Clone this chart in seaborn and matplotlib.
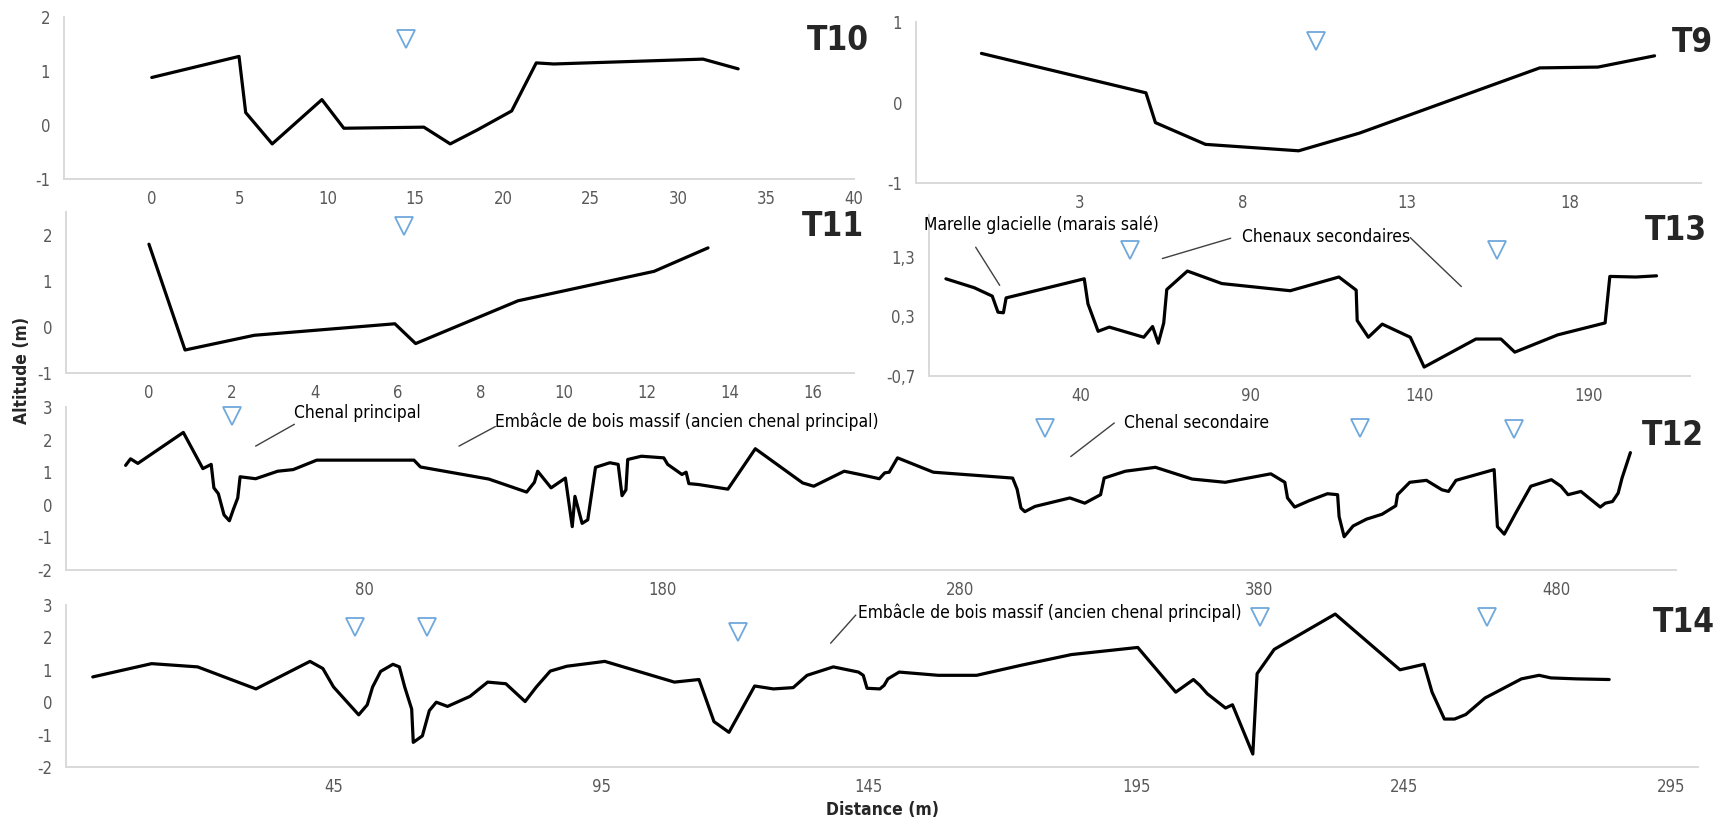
import matplotlib
matplotlib.use("Agg")
import matplotlib.pyplot as plt
import seaborn as sns

sns.set_theme(style="white")
plt.rcParams['font.family'] = ['DejaVu Sans']
plt.rcParams['font.stretch'] = 'condensed'
plt.rcParams['axes.unicode_minus'] = False

# --- profiles (distance in m, altitude in m) ---
t10_x = [0, 4.97, 5.35, 6.86, 9.69, 10.94, 15.5, 17.0, 18.55, 20.5, 21.9, 22.9, 31.4, 33.4]
t10_z = [0.88, 1.27, 0.23, -0.35, 0.47, -0.06, -0.04, -0.35, -0.09, 0.26, 1.15, 1.13, 1.22, 1.04]

t9_x = [0, 5.03, 5.32, 6.85, 9.7, 11.56, 17.07, 18.85, 20.58]
t9_z = [0.61, 0.12, -0.25, -0.52, -0.60, -0.38, 0.43, 0.44, 0.58]

t11_x = [0, 0.87, 2.54, 5.93, 6.43, 8.9, 12.18, 13.48]
t11_z = [1.80, -0.50, -0.18, 0.07, -0.36, 0.57, 1.21, 1.72]

t13_x = [0, 8.4, 13.7, 15.4, 17.0, 17.8, 23.6, 40.9, 42.0, 45.0, 48.3, 58.5, 61.1, 62.8,
         64.4, 65.3, 71.4, 81.6, 101.8, 116.2, 121.3, 121.6, 124.9, 129.0, 137.3, 141.4,
         156.7, 164.1, 168.2, 180.9, 194.9, 196.3, 204.0, 210.1]
t13_z = [0.93, 0.78, 0.64, 0.37, 0.36, 0.61, 0.69, 0.93, 0.51, 0.05, 0.12, -0.05, 0.13, -0.15,
         0.19, 0.75, 1.06, 0.85, 0.73, 0.96, 0.74, 0.23, -0.05, 0.17, -0.05, -0.55,
         -0.08, -0.08, -0.30, -0.01, 0.19, 0.97, 0.96, 0.98]

t12_x = [0, 1.65, 4.1, 19.35, 25.9, 28.7, 29.6, 31.1, 33.0, 34.8, 36.1, 37.6, 38.4, 43.6,
         51.0, 56.2, 64.1, 96.7, 98.9, 121.8, 134.5, 137.1, 138.2, 142.7, 147.5, 149.8,
         150.7, 153.1, 155.0, 157.6, 162.4, 165.2, 166.5, 167.8, 168.4, 173.0, 180.5,
         181.8, 186.6, 188.0, 188.9, 192.3, 202.0, 211.2, 227.1, 230.8, 241.0, 246.3,
         252.8, 254.6, 256.1, 258.9, 270.9, 297.5, 299.0, 300.3, 301.6, 305.0, 316.7,
         321.7, 327.0, 328.2, 335.3, 345.4, 357.7, 368.8, 384.1, 388.8, 389.7, 392.1,
         396.8, 403.1, 406.5, 407.0, 408.7, 411.7, 416.2, 421.4, 426.0, 426.6, 430.7,
         436.3, 441.5, 443.7, 446.2, 459.0, 460.1, 462.4, 466.5, 471.3, 478.2, 481.4,
         483.8, 488.1, 494.6, 496.3, 498.7, 500.6, 501.9, 504.7]
t12_z = [1.21, 1.41, 1.27, 2.22, 1.11, 1.24, 0.52, 0.34, -0.31, -0.49, -0.15, 0.21, 0.86, 0.80,
         1.03, 1.08, 1.37, 1.37, 1.16, 0.79, 0.39, 0.69, 1.03, 0.52, 0.82, -0.67,
         0.26, -0.57, -0.46, 1.15, 1.29, 1.24, 0.28, 0.46, 1.39, 1.49, 1.44,
         1.24, 0.93, 1.00, 0.65, 0.62, 0.48, 1.72, 0.67, 0.57, 1.03, 0.93,
         0.80, 0.98, 1.00, 1.44, 1.00, 0.82, 0.48, -0.10, -0.21, -0.05, 0.21,
         0.05, 0.31, 0.82, 1.03, 1.15, 0.79, 0.69, 0.95, 0.69, 0.21, -0.07,
         0.12, 0.34, 0.31, -0.36, -0.98, -0.65, -0.44, -0.29, -0.03, 0.31, 0.69,
         0.75, 0.46, 0.41, 0.75, 1.08, -0.67, -0.90, -0.21, 0.57, 0.77, 0.57,
         0.31, 0.41, -0.07, 0.05, 0.10, 0.36, 0.82, 1.60]

t14_x = [0, 11.0, 19.6, 30.5, 40.6, 43.0, 45.0, 49.7, 51.3, 52.3, 53.8, 56.1, 57.3, 58.3,
         59.6, 59.9, 61.6, 62.9, 64.2, 66.3, 70.5, 73.8, 77.2, 80.8, 82.9, 85.5, 88.6,
         95.7, 108.7, 113.3, 116.1, 118.9, 123.7, 127.2, 130.9, 133.5, 138.4, 143.1,
         144.0, 144.7, 147.1, 147.9, 148.6, 150.7, 158.0, 165.2, 173.5, 182.9, 195.3,
         202.4, 205.7, 206.9, 208.3, 211.7, 213.0, 216.8, 217.6, 220.8, 232.2, 244.3,
         248.8, 250.3, 252.6, 254.5, 256.6, 260.2, 267.0, 270.3, 272.5, 277.3, 283.4]
t14_z = [0.78, 1.19, 1.09, 0.41, 1.26, 1.04, 0.47, -0.39, -0.08, 0.47, 0.95, 1.17, 1.09, 0.47,
         -0.21, -1.24, -1.04, -0.26, 0.00, -0.13, 0.18, 0.62, 0.57, 0.02, 0.47, 0.96, 1.11,
         1.26, 0.62, 0.70, -0.60, -0.93, 0.50, 0.41, 0.45, 0.83, 1.09, 0.93,
         0.83, 0.43, 0.41, 0.52, 0.72, 0.93, 0.83, 0.83, 1.14, 1.47, 1.69,
         0.31, 0.70, 0.52, 0.26, -0.18, -0.08, -1.60, 0.88, 1.63, 2.72, 1.00,
         1.17, 0.31, -0.52, -0.52, -0.38, 0.13, 0.72, 0.83, 0.75, 0.72, 0.70]

# water level markers
t10_wx, t10_wz = [14.5], [1.6]
t9_wx, t9_wz = [10.24], [0.76]
t11_wx, t11_wz = [6.16], [2.2]
t13_wx, t13_wz = [54.4, 162.8], [1.41, 1.41]
t12_wx, t12_wz = [35.6, 308.3, 413.9, 465.5], [2.73, 2.37, 2.37, 2.32]
t14_wx, t14_wz = [49.0, 62.5, 120.5, 218.2, 260.5], [2.33, 2.33, 2.17, 2.62, 2.62]

W, H = 1729, 821
GREY = '#595959'
SPINE = '#D9D9D9'
BLUE = '#6FA8DC'

fig = plt.figure(figsize=(W / 100, H / 100), dpi=100)


def rect(l, t, r, b):
    return [l / W, 1 - b / H, (r - l) / W, (b - t) / H]


def panel(box, xs, zs, wx, wz, xlim, ylim, xticks, yticks, ylabels=None):
    ax = fig.add_axes(rect(*box))
    sns.lineplot(x=xs, y=zs, ax=ax, color='black', lw=2.3, sort=False,
                 estimator=None, solid_joinstyle='round')
    ax.plot(wx, wz, 'v', ms=12.5, mfc='none', mec=BLUE, mew=1.3, clip_on=False)
    ax.set_xlim(*xlim)
    ax.set_ylim(*ylim)
    ax.set_xticks(xticks)
    ax.set_yticks(yticks)
    if ylabels is not None:
        ax.set_yticklabels(ylabels)
    sns.despine(ax=ax)
    for s in ['left', 'bottom']:
        ax.spines[s].set_color(SPINE)
        ax.spines[s].set_linewidth(1.4)
    ax.tick_params(length=0, labelsize=12, colors=GREY)
    ax.tick_params(axis='x', pad=8)
    ax.tick_params(axis='y', pad=10)
    ax.set_xlabel('')
    ax.set_ylabel('')
    return ax


ax10 = panel((64, 17, 854, 179), t10_x, t10_z, t10_wx, t10_wz, (-5, 40), (-1, 2),
             range(0, 41, 5), [-1, 0, 1, 2])
ax9 = panel((916, 22, 1701, 183), t9_x, t9_z, t9_wx, t9_wz, (-2, 22), (-1, 1),
            [3, 8, 13, 18], [-1, 0, 1])
ax11 = panel((66, 212, 854, 373), t11_x, t11_z, t11_wx, t11_wz, (-2, 17), (-1, 2.5),
             range(0, 17, 2), [-1, 0, 1, 2])
ax13 = panel((929, 215, 1690, 376), t13_x, t13_z, t13_wx, t13_wz, (-5, 220), (-0.7, 2.0),
             [40, 90, 140, 190], [-0.7, 0.3, 1.3], ['-0,7', '0,3', '1,3'])
ax12 = panel((66, 407, 1676, 570), t12_x, t12_z, t12_wx, t12_wz, (-20, 520), (-2, 3),
             [80, 180, 280, 380, 480], range(-2, 4))
ax14 = panel((66, 605, 1698, 767), t14_x, t14_z, t14_wx, t14_wz, (-5, 300), (-2, 3),
             [45, 95, 145, 195, 245, 295], range(-2, 4))


def note(ax, text, tx, ty, x0, y0, x1, y1):
    ax.plot([x0, x1], [y0, y1], color='#404040', lw=1, clip_on=False)
    ax.text(tx, ty, text, ha='left', va='center', fontsize=12.5, color='black',
            clip_on=False)


note(ax12, 'Chenal principal', 56.5, 2.82, 43.6, 1.80, 56.6, 2.47)
note(ax12, 'Embâcle de bois massif (ancien chenal principal)', 124.0, 2.55, 111.8, 1.80, 124.0, 2.40)
note(ax12, 'Chenal secondaire', 334.8, 2.51, 317.0, 1.48, 331.6, 2.51)
note(ax13, 'Marelle glacielle (marais salé)', -6.4, 1.83, 15.9, 0.82, 8.8, 1.46)
note(ax13, 'Chenaux secondaires', 87.4, 1.63, 64.0, 1.27, 84.2, 1.61)
ax13.plot([137.3, 152.4], [1.62, 0.80], color='#404040', lw=1, clip_on=False)
note(ax14, 'Embâcle de bois massif (ancien chenal principal)', 143.0, 2.76, 137.9, 1.82, 142.6, 2.69)

# panel names
for name, x, y in [('T10', 869, 40), ('T9', 1713, 43), ('T11', 864, 227),
                   ('T13', 1707, 230), ('T12', 1704, 435), ('T14', 1715, 622)]:
    fig.text(x / W, 1 - y / H, name, ha='right', va='center', fontsize=24,
             weight='bold')

fig.text(22 / W, 1 - 370 / H, 'Altitude (m)', rotation=90, ha='center', va='center',
         fontsize=12.5, weight='bold')
fig.text(883 / W, 1 - 810 / H, 'Distance (m)', ha='center', va='center',
         fontsize=12.5, weight='bold')

fig.savefig('out.png', dpi=100)
